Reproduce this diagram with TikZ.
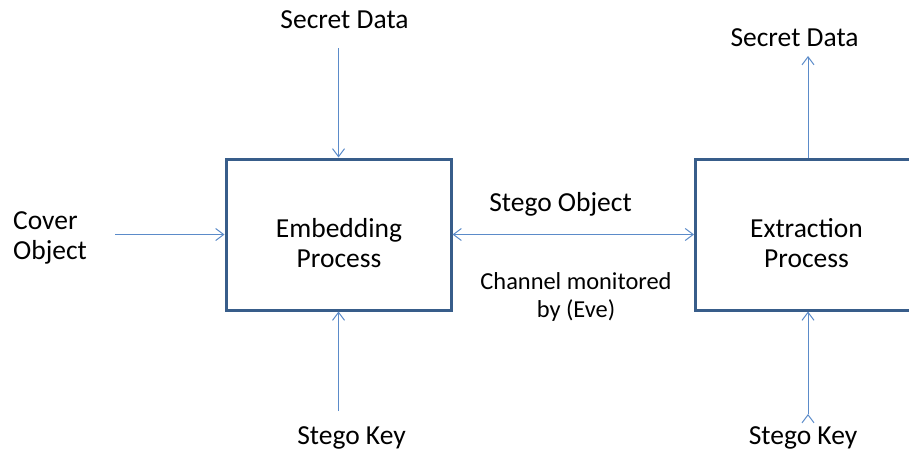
\documentclass[tikz,border=0pt]{standalone}
\usepackage{fontspec}
\setmainfont{Carlito}
\usepackage{tikz}
\usetikzlibrary{arrows.meta,positioning}
\definecolor{boxblue}{HTML}{385D8A}
\definecolor{arrowblue}{HTML}{5B8BC9}

\begin{document}
\begin{tikzpicture}[x=1pt,y=-1pt,
    process/.style = {draw=boxblue,line width=3pt,minimum width=225pt,minimum height=151pt,inner sep=0pt},
    flow/.style = {draw=arrowblue,line width=1pt,-{Straight Barb[length=8pt,width=12pt]}},
    lbl/.style = {font=\fontsize{27.5}{30}\selectfont,inner sep=0pt},
    small/.style = {font=\fontsize{24.4}{28}\selectfont,inner sep=0pt,align=center}]
\useasboundingbox (0,0) rectangle (909,450);

% the two process boxes
\node[process] (embed) at (338.5,234.5) {};
\node[process] (extract) at (808,234.5) {};
\node[lbl,align=center] (embedTxt) at (339,243.5) {Embedding\\Process};
\node[lbl,align=center] (extractTxt) at (806.5,243.5) {Extraction\\Process};

% labels
\node[lbl,anchor=base] (secretIn) at (344.5,28) {Secret Data};
\node[lbl,anchor=base] (secretOut) at (794.5,46) {Secret Data};
\node[lbl,anchor=base] (keyIn) at (351.5,444) {Stego Key};
\node[lbl,anchor=base] (keyOut) at (803,444) {Stego Key};
\node[lbl,anchor=west,align=left] (cover) at (13,237.5) {Cover\\Object};
\node[lbl,anchor=base] (stego) at (560.5,211) {Stego Object};
\node[small] (channel) at (576,297) {Channel monitored\\by (Eve)};

% free ends of the connectors
\coordinate (secretInEnd) at (338.5,48);
\coordinate (secretOutEnd) at (808,56);
\coordinate (keyInEnd) at (338.5,411);
\coordinate (keyOutEnd) at (808,414);
\coordinate (coverEnd) at (115,234.5);

\path[flow] (secretInEnd) edge (embed)
    (keyInEnd) edge (embed)
    (coverEnd) edge (embed)
    (extract) edge (secretOutEnd)
    (keyOutEnd) edge (extract);
\draw[flow,{Straight Barb[length=8pt,width=12pt]}-{Straight Barb[length=8pt,width=12pt]}] (embed) -- (extract);
\end{tikzpicture}
\end{document}
